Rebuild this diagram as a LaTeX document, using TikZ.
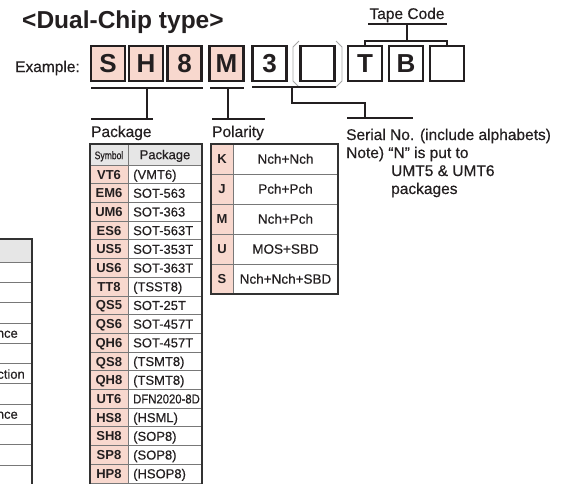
\documentclass[tikz,border=0pt]{standalone}
\usepackage{fontspec}
\setmainfont{Liberation Sans}
\newfontfamily\medfont{Liberation Sans}[FakeBold=0.45]
\usepackage{graphicx}
\definecolor{ink}{RGB}{35,31,32}
\definecolor{pinkc}{RGB}{248,216,206}
\definecolor{hdrgray}{RGB}{230,230,230}
\definecolor{rulec}{RGB}{120,120,120}
\definecolor{framec}{RGB}{50,50,50}
\begin{document}
\begin{tikzpicture}[x=1pt,y=-1pt,
  conn/.style={draw=ink,line width=2.4pt},
  codebox/.style={draw=ink,line width=2.4pt,minimum width=34pt,minimum height=35pt,inner sep=0pt,text height=18.5pt,text depth=0pt,text=ink,font=\bfseries\fontsize{26}{26}\selectfont},
  lbl/.style={inner sep=0pt,text=ink,font=\medfont\fontsize{15.5}{18}\selectfont},
  cell/.style={inner sep=0pt,text=ink,text height=9.4pt,text depth=0pt,font=\medfont\fontsize{13}{15}\selectfont},
  sym/.style={cell,font=\bfseries\fontsize{13}{15}\selectfont},
  thinrule/.style={draw=rulec,line width=0.7pt},
  frame/.style={draw=framec,line width=2.2pt},
  paren/.style={draw=gray!70,line width=0.8pt}]
\useasboundingbox (0,0) rectangle (563,483);
\clip (0,0) rectangle (563,483);

% title and example row
\node[anchor=base west,inner sep=0pt,text=ink,font=\bfseries\fontsize{24.5}{27}\selectfont] (title) at (22,28) {<Dual-Chip type>};
\node[lbl,anchor=base] (tape) at (407,19) {Tape Code};
\node[lbl,anchor=base east] (ex) at (80,72) {Example:};

\foreach \n/\x/\t/\f in {bS/108/S/pinkc, bH/146/H/pinkc, b8/184.5/8/pinkc, bM/226.5/M/pinkc, b3/269.5/3/white, bP/317.5//white, bT/365/T/white, bB/406/B/white, bE/447//white}
  \node[codebox,fill=\f] (\n) at (\x,63.5) {\t};

% parentheses round the optional box
\draw[paren] (299,41) -- (293,47) -- (293,81) -- (299,87);
\draw[paren] (336,41) -- (342,47) -- (342,81) -- (336,87);

% tape code bracket
\coordinate (tapeL) at (368,24);
\coordinate (tapeR) at (447,24);
\coordinate (tapeM) at (407,24);
\coordinate (brT) at (365,41);
\coordinate (brE) at (447,41);
\draw[conn] (tapeL) -- (tapeR);
\draw[conn] (tapeM) -- (tapeM |- brT);
\draw[conn] (bT.north) -- (brT) -- (brE) -- (bE.north);

% package bracket
\coordinate (pkL) at (91,88);
\coordinate (pkR) at (203,88);
\coordinate (pkV) at (147,88);
\coordinate (pkB) at (147,119);
\coordinate (pkBL) at (91,119);
\coordinate (pkBR) at (153,119);
\draw[conn] (pkL) -- (pkR);
\draw[conn] (pkV) -- (pkB);
\draw[conn] (pkBL) -- (pkBR);

% polarity bracket
\coordinate (poL) at (210,88);
\coordinate (poR) at (244,88);
\coordinate (poV) at (228,88);
\coordinate (poB) at (228,119);
\coordinate (poBL) at (212,119);
\coordinate (poBR) at (265,119);
\draw[conn] (poL) -- (poR);
\draw[conn] (poV) -- (poB);
\draw[conn] (poBL) -- (poBR);

% serial bracket
\coordinate (seL) at (252,87);
\coordinate (seR) at (336,87);
\coordinate (seV) at (292,87);
\coordinate (seK1) at (292,103);
\coordinate (seK2) at (365,103);
\coordinate (seB) at (365,118);
\coordinate (seBL) at (347,118);
\coordinate (seBR) at (413,118);
\draw[conn] (seL) -- (seR);
\draw[conn] (seV) -- (seK1) -- (seK2) -- (seB);
\draw[conn] (seBL) -- (seBR);

% labels
\node[lbl,anchor=base west] (pkg) at (91,137) {Package};
\node[lbl,anchor=base west] (pol) at (212,137) {Polarity};
\node[lbl,anchor=base west] (ser) at (346,140) {Serial No. (include alphabets)};
\node[lbl,anchor=base west] (note) at (346,158) {Note) “N” is put to};
\node[lbl,anchor=base west] (umt) at (391,176) {UMT5 \& UMT6};
\node[lbl,anchor=base west] (pks) at (391,194) {packages};

% package table
\fill[hdrgray] (90,144) rectangle (202,165);
\fill[pinkc] (90,165) rectangle (128,490);
\foreach \k in {0,...,17} \draw[thinrule] (90,{165+\k*18.7}) -- (202,{165+\k*18.7});
\draw[thinrule] (128,144) -- (128,490);
\draw[frame] (90,144) rectangle (202,490);
\node[cell,font=\medfont\fontsize{11}{12}\selectfont] (hsym) at (109,154.5) {\scalebox{0.78}[1]{Symbol}};
\node[cell] (hpkg) at (165,154.5) {Package};
\foreach \s/\p [count=\i] in {VT6/(VMT6), EM6/SOT-563, UM6/SOT-363, ES6/SOT-563T, US5/SOT-353T, US6/SOT-363T, TT8/(TSST8), QS5/SOT-25T, QS6/SOT-457T, QH6/SOT-457T, QS8/(TSMT8), QH8/(TSMT8), UT6/{\scalebox{0.87}[1]{DFN2020-8D}}, HS8/(HSML), SH8/(SOP8), SP8/(SOP8), HP8/(HSOP8)} {
  \pgfmathsetmacro\yy{165+(\i-0.5)*18.7}
  \node[sym] (ps\i) at (109,\yy) {\s};
  \node[cell,anchor=west] (pp\i) at (133,\yy) {\p};
}

% polarity table
\fill[pinkc] (211,144) rectangle (233,294);
\foreach \k in {1,...,4} \draw[thinrule] (211,{144+\k*30}) -- (338,{144+\k*30});
\draw[thinrule] (233,144) -- (233,294);
\draw[frame] (211,144) rectangle (338,294);
\foreach \s/\p [count=\i] in {K/Nch+Nch, J/Pch+Pch, M/Nch+Pch, U/MOS+SBD, S/Nch+Nch+SBD} {
  \pgfmathsetmacro\yy{144+(\i-0.5)*30}
  \node[sym] (qs\i) at (222,\yy) {\s};
  \node[cell,font=\medfont\fontsize{13.5}{15}\selectfont] (qp\i) at (285.5,\yy) {\p};
}

% partial table at the left edge
\fill[hdrgray] (-5,239) rectangle (32,262);
\foreach \k in {0,...,10} \draw[thinrule] (-5,{262+\k*20.3}) -- (32,{262+\k*20.3});
\draw[frame] (-5,239) -- (32,239) -- (32,490);
\node[cell,anchor=east] (lt1) at (18,333) {nce};
\node[cell,anchor=east] (lt2) at (25,374) {ction};
\node[cell,anchor=east] (lt3) at (18,414) {nce};
\end{tikzpicture}
\end{document}
